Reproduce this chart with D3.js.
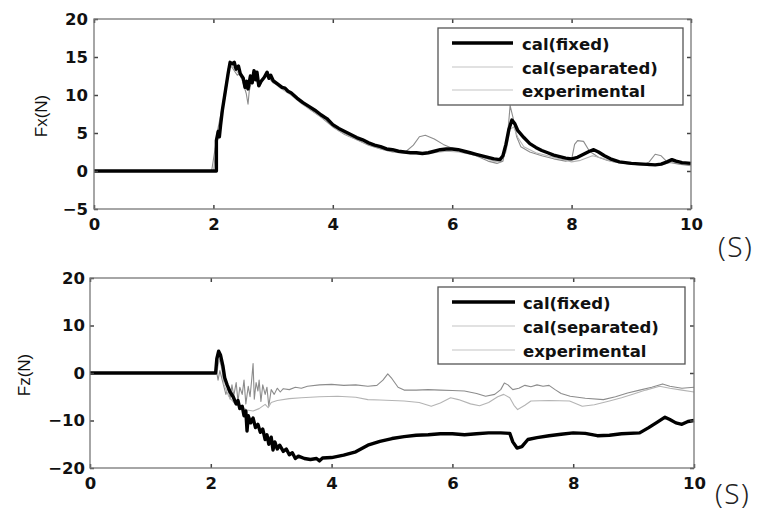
<!DOCTYPE html>
<html><head><meta charset="utf-8">
<script src="https://cdn.jsdelivr.net/npm/d3@7"></script>
<style>
html,body{margin:0;padding:0;background:#fff;}
svg{display:block;}
.tick text{font-family:"DejaVu Sans",sans-serif;font-weight:bold;font-size:16.5px;fill:#111;}
</style></head>
<body>
<script>
// ---------- data ----------
const xTicks = [0, 2, 4, 6, 8, 10];
const fxTicks = [-5, 0, 5, 10, 15, 20];
const fzTicks = [-20, -10, 0, 10, 20];
const seriesNames = ["cal(fixed)", "cal(separated)", "experimental"];

// Fx panel
const fxFixed = [[0,0],[2.05,0],[2.05,4],[2.08,5.2],[2.1,4.5],[2.12,6],[2.15,8],[2.2,10.5],[2.25,13],[2.28,14.3],[2.32,14.1],[2.35,14.3],[2.38,13.4],[2.42,13.8],[2.45,12.8],[2.5,12.2],[2.53,11],[2.56,11.8],[2.58,10.8],[2.62,12.5],[2.65,11.6],[2.68,13.2],[2.71,12],[2.73,13],[2.76,11.2],[2.8,11.8],[2.85,12.3],[2.9,13],[2.93,12.2],[2.96,12.6],[3.0,11.9],[3.05,11.6],[3.1,11.3],[3.15,11],[3.2,10.9],[3.25,10.5],[3.3,10.3],[3.4,9.6],[3.5,9],[3.6,8.5],[3.7,8],[3.8,7.4],[3.9,6.9],[4.0,6.1],[4.1,5.6],[4.2,5.2],[4.3,4.8],[4.4,4.4],[4.5,4.1],[4.6,3.7],[4.7,3.4],[4.8,3.2],[4.9,2.9],[5.0,2.8],[5.1,2.6],[5.2,2.5],[5.3,2.4],[5.4,2.4],[5.5,2.3],[5.6,2.4],[5.7,2.6],[5.8,2.8],[5.9,2.9],[6.0,2.9],[6.1,2.8],[6.2,2.6],[6.3,2.4],[6.4,2.2],[6.5,2.0],[6.6,1.8],[6.7,1.6],[6.8,1.5],[6.85,2.0],[6.9,3.5],[6.95,5.5],[7.0,6.7],[7.05,6.2],[7.1,5.3],[7.2,4.4],[7.3,3.6],[7.4,3.1],[7.5,2.7],[7.6,2.4],[7.7,2.1],[7.8,1.9],[7.9,1.7],[8.0,1.6],[8.1,1.8],[8.2,2.2],[8.3,2.6],[8.37,2.8],[8.45,2.5],[8.55,2.0],[8.65,1.6],[8.8,1.2],[9.0,1.0],[9.2,0.9],[9.4,0.8],[9.5,0.9],[9.6,1.2],[9.68,1.5],[9.75,1.3],[9.85,1.1],[10,1.0]];
const fxSeparated = [[0,0],[2.0,0],[2.03,2],[2.06,4.5],[2.1,5.5],[2.2,10],[2.27,13.8],[2.35,13.6],[2.45,12.5],[2.55,10.8],[2.62,11.8],[2.68,12.8],[2.75,11.3],[2.85,12.4],[2.95,12.4],[3.1,11],[3.3,10],[3.5,8.7],[3.7,7.7],[3.9,6.6],[4.1,5.3],[4.3,4.5],[4.5,3.8],[4.7,3.2],[4.9,2.7],[5.1,2.4],[5.3,2.3],[5.5,2.2],[5.7,2.4],[5.9,2.6],[6.1,2.5],[6.3,2.2],[6.5,1.8],[6.7,1.3],[6.8,1.2],[6.9,2.5],[6.97,5.5],[7.03,5.8],[7.1,4.4],[7.2,3.2],[7.4,2.4],[7.6,2.0],[7.8,1.6],[8.0,1.2],[8.15,1.4],[8.35,2.0],[8.5,1.7],[8.7,1.2],[9.0,0.9],[9.3,0.7],[9.5,0.8],[9.7,1.2],[9.85,1.0],[10,0.8]];
const fxExperimental = [[0,0],[1.97,0],[2.0,1.5],[2.03,3],[2.06,5],[2.1,6.5],[2.15,8.5],[2.2,11],[2.25,13.5],[2.3,13.8],[2.35,13.2],[2.4,12.6],[2.45,12.9],[2.5,11.5],[2.55,10.2],[2.58,8.8],[2.6,10.5],[2.65,12.2],[2.7,12.6],[2.75,11.5],[2.8,12],[2.9,12.5],[3.0,11.6],[3.2,10.7],[3.4,9.4],[3.6,8.2],[3.8,7.1],[4.0,5.8],[4.2,4.8],[4.4,4.1],[4.6,3.4],[4.8,2.9],[5.0,2.5],[5.2,2.4],[5.35,3.4],[5.45,4.5],[5.55,4.7],[5.7,4.2],[5.85,3.5],[6.0,3.0],[6.2,2.5],[6.4,2.0],[6.6,1.3],[6.75,1.0],[6.85,1.3],[6.92,4],[6.97,8.6],[7.02,7],[7.08,4.5],[7.15,3.2],[7.3,2.5],[7.5,2.0],[7.7,1.6],[7.9,1.3],[8.0,1.5],[8.05,3.5],[8.1,4.0],[8.2,3.9],[8.3,2.6],[8.45,1.8],[8.6,1.4],[8.8,1.1],[9.0,0.9],[9.2,0.8],[9.3,1.2],[9.4,2.2],[9.5,2.0],[9.6,1.2],[9.8,0.9],[10,0.7]];

// Fz panel
const fzFixed = [[0,0],[2.08,0],[2.1,3],[2.13,4.6],[2.16,3.8],[2.2,1.5],[2.23,-1],[2.27,-2.5],[2.32,-4],[2.37,-5],[2.42,-6.5],[2.45,-5.8],[2.48,-7.5],[2.52,-7],[2.55,-9],[2.58,-8],[2.6,-12.2],[2.62,-9],[2.66,-10.5],[2.7,-9.5],[2.74,-11.5],[2.78,-10.8],[2.82,-12.5],[2.86,-11.8],[2.9,-14],[2.93,-13],[2.96,-15],[3.0,-13.5],[3.03,-16.2],[3.06,-14.5],[3.1,-16],[3.14,-15.2],[3.2,-16.5],[3.25,-16],[3.3,-17.2],[3.35,-16.8],[3.4,-18],[3.45,-17.5],[3.55,-18],[3.65,-18.2],[3.75,-18],[3.8,-18.5],[3.85,-17.9],[4.0,-17.8],[4.2,-17.3],[4.4,-16.6],[4.6,-15.2],[4.8,-14.4],[5.0,-13.8],[5.2,-13.4],[5.4,-13.1],[5.6,-13],[5.8,-12.8],[6.0,-12.8],[6.2,-13],[6.4,-12.8],[6.6,-12.6],[6.8,-12.6],[6.95,-12.7],[7.0,-14.5],[7.07,-15.8],[7.15,-15.5],[7.25,-14],[7.4,-13.6],[7.6,-13.2],[7.8,-12.9],[8.0,-12.6],[8.2,-12.7],[8.4,-13.2],[8.6,-13.1],[8.8,-12.8],[9.1,-12.6],[9.25,-11.5],[9.4,-10.3],[9.52,-9.3],[9.6,-9.8],[9.7,-10.5],[9.8,-10.8],[9.9,-10.2],[10,-10]];
const fzSeparated = [[0,0],[2.1,0],[2.14,3],[2.18,1],[2.22,-2.5],[2.3,-5],[2.4,-6.5],[2.5,-7],[2.6,-7.8],[2.7,-8],[2.8,-7.5],[2.9,-6.6],[2.95,-7.3],[3.0,-6.2],[3.1,-5.8],[3.3,-5.4],[3.5,-5.2],[3.8,-5],[4.1,-4.9],[4.4,-5.1],[4.6,-5.6],[4.8,-5.7],[5.0,-5.8],[5.2,-5.9],[5.45,-6.2],[5.65,-7],[5.8,-6.3],[5.97,-5.2],[6.1,-5.6],[6.3,-6.5],[6.45,-6.9],[6.6,-6.2],[6.75,-5],[6.85,-4.5],[6.95,-5.2],[7.02,-6.8],[7.08,-7.7],[7.2,-6.8],[7.3,-5.9],[7.6,-5.8],[7.94,-5.9],[8.15,-7],[8.35,-6.7],[8.6,-5.9],[8.8,-5.2],[9.0,-4.4],[9.2,-3.6],[9.43,-2.8],[9.6,-3.2],[9.8,-3.6],[10,-4]];
const fzExperimental = [[0,0],[2.1,0],[2.12,-1.5],[2.15,0.5],[2.2,-2],[2.25,-4.5],[2.28,-3],[2.32,-5.5],[2.35,-2.5],[2.38,-4.8],[2.42,-2],[2.45,-6],[2.48,-3],[2.52,-4.5],[2.55,-1.5],[2.58,-6.5],[2.62,-2.8],[2.65,-5],[2.68,-1],[2.7,2],[2.72,-5.5],[2.75,-2],[2.78,-3.8],[2.8,-1.5],[2.83,-6],[2.86,-2.5],[2.9,-4.5],[2.93,-3],[2.96,-7],[3.0,-3.5],[3.05,-4.5],[3.1,-3.2],[3.15,-4],[3.2,-3.3],[3.3,-3.5],[3.4,-3],[3.5,-3.2],[3.6,-2.8],[3.8,-2.5],[4.0,-2.4],[4.2,-2.6],[4.4,-2.5],[4.6,-2.8],[4.75,-2.6],[4.85,-1.5],[4.93,-0.2],[5.0,-1.2],[5.1,-3],[5.2,-3.6],[5.4,-3.6],[5.6,-3.5],[5.8,-3.6],[6.0,-3.7],[6.2,-3.8],[6.4,-4.3],[6.55,-4.9],[6.7,-4.5],[6.8,-3.5],[6.86,-2.1],[6.92,-2.5],[7.0,-3.5],[7.1,-3.2],[7.2,-2.6],[7.3,-2.9],[7.4,-2.5],[7.5,-2.8],[7.6,-2.6],[7.7,-3.5],[7.8,-4.3],[7.95,-4.9],[8.2,-5.3],[8.5,-5.6],[8.7,-5],[8.9,-4.2],[9.1,-3.6],[9.3,-3],[9.48,-2.3],[9.6,-2.8],[9.8,-3.2],[10,-3]];

// ---------- drawing ----------
const W = 758, H = 511;
const svg = d3.select("body").append("svg").attr("width", W).attr("height", H);

const styles = [
  {color:"#000", width:3.4},
  {color:"#b4b4b4", width:1.1},
  {color:"#8c8c8c", width:1.1}
];
const legStyles = [
  {color:"#000", width:3.4},
  {color:"#c4c4c4", width:1.1},
  {color:"#c4c4c4", width:1.1}
];

function panel(cfg) {
  const x = d3.scaleLinear().domain([0,10]).range([cfg.x0, cfg.x1]);
  const y = d3.scaleLinear().domain(cfg.yDomain).range([cfg.yb, cfg.yt]);
  const g = svg.append("g");

  const line = d3.line().x(d => x(d[0])).y(d => y(d[1]));
  [2,1,0].forEach(i => {
    g.append("path").datum(cfg.series[i]).attr("d", line)
      .attr("fill","none").attr("stroke", styles[i].color)
      .attr("stroke-width", styles[i].width).attr("stroke-linejoin","round");
  });

  const ax = g.append("g").attr("transform",`translate(0,${cfg.yb})`)
    .call(d3.axisBottom(x).tickValues(xTicks).tickSizeInner(-4).tickSizeOuter(0).tickPadding(9));
  const ay = g.append("g").attr("transform",`translate(${cfg.x0},0)`)
    .call(d3.axisLeft(y).tickValues(cfg.yTicks).tickSizeInner(-4).tickSizeOuter(0).tickPadding(cfg.yPad)
      .tickFormat(d => d < 0 ? "\u2212" + Math.abs(d) : d));
  const at = g.append("g").attr("transform",`translate(0,${cfg.yt})`)
    .call(d3.axisTop(x).tickValues(xTicks).tickSizeInner(-4).tickSizeOuter(0).tickFormat(""));
  const ar = g.append("g").attr("transform",`translate(${cfg.x1},0)`)
    .call(d3.axisRight(y).tickValues(cfg.yTicks).tickSizeInner(-4).tickSizeOuter(0).tickFormat(""));
  [ax,ay,at,ar].forEach(a => {
    a.select(".domain").remove();
    a.selectAll(".tick line").attr("stroke","#444").attr("stroke-width",1.5);
  });

  g.append("rect").attr("x",cfg.x0).attr("y",cfg.yt)
    .attr("width",cfg.x1-cfg.x0).attr("height",cfg.yb-cfg.yt)
    .attr("fill","none").attr("stroke","#777").attr("stroke-width",1.3);

  g.append("text").attr("transform",`translate(${cfg.labX},${cfg.labY}) rotate(-90)`)
    .attr("text-anchor","middle").attr("dominant-baseline","central")
    .style("font-family","'Liberation Sans',Arial,sans-serif").style("font-size","17px").style("fill","#111")
    .text(cfg.label);

  g.append("text").attr("x",cfg.unitX).attr("y",cfg.unitY)
    .attr("dominant-baseline","central")
    .style("font-family","'Noto Sans','Noto Sans CJK JP',sans-serif").style("font-weight","300")
    .style("font-size","28px").style("letter-spacing","1.5px").style("fill","#222")
    .text("(S)");

  const L = cfg.leg;
  g.append("rect").attr("x",L.x0).attr("y",L.y0).attr("width",L.x1-L.x0).attr("height",L.y1-L.y0)
    .attr("fill","#fff").attr("stroke","#555").attr("stroke-width",1.3);
  seriesNames.forEach((name,i) => {
    const ry = L.rows[i];
    g.append("line").attr("x1",L.lx0).attr("x2",L.lx1).attr("y1",ry).attr("y2",ry)
      .attr("stroke",legStyles[i].color).attr("stroke-width",legStyles[i].width);
    g.append("text").attr("x",L.tx).attr("y",ry+1).attr("dominant-baseline","central")
      .style("font-family","'DejaVu Sans',sans-serif").style("font-weight","bold")
      .style("font-size","16.5px").style("fill","#111").text(name);
  });
}

panel({
  x0:94, x1:691, yt:19, yb:209, yDomain:[-5,20], yTicks:fxTicks, yPad:6,
  series:[fxFixed, fxSeparated, fxExperimental], label:"Fx(N)", labX:41, labY:116,
  unitX:718, unitY:246,
  leg:{x0:438, x1:683, y0:28, y1:105, rows:[43,67,90], lx0:452, lx1:513, tx:522}
});
panel({
  x0:90, x1:694, yt:278, yb:468, yDomain:[-20,20], yTicks:fzTicks, yPad:5,
  series:[fzFixed, fzSeparated, fzExperimental], label:"Fz(N)", labX:24, labY:375,
  unitX:715, unitY:493,
  leg:{x0:438, x1:685, y0:287, y1:364, rows:[302,326,350], lx0:452, lx1:515, tx:523}
});
</script>
</body></html>
